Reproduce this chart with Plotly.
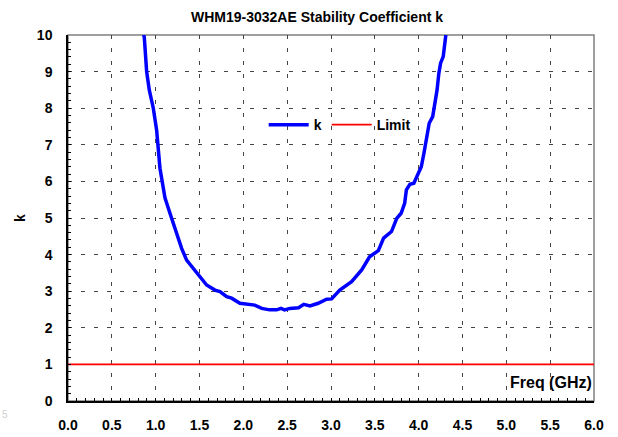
import plotly.graph_objects as go

# ---- data ----
freq_ghz = [0.860, 0.870, 0.897, 0.927, 0.973, 1.011, 1.049, 1.085, 1.106, 1.163,
            1.220, 1.296, 1.353, 1.429, 1.505, 1.581, 1.676, 1.733, 1.810, 1.866,
            1.961, 2.040, 2.130, 2.210, 2.300, 2.380, 2.430, 2.470, 2.530, 2.630,
            2.690, 2.760, 2.854, 2.950, 3.007, 3.100, 3.235, 3.350, 3.440, 3.540,
            3.600, 3.690, 3.750, 3.800, 3.840, 3.860, 3.900, 3.945, 3.976, 4.030,
            4.060, 4.090, 4.120, 4.160, 4.180, 4.210, 4.230, 4.250, 4.280, 4.300,
            4.310]
k_values = [10.0, 9.95, 9.00, 8.50, 8.00, 7.40, 6.36, 5.85, 5.55, 5.13,
            4.72, 4.17, 3.85, 3.63, 3.42, 3.17, 3.03, 2.99, 2.85, 2.81,
            2.67, 2.64, 2.62, 2.53, 2.49, 2.49, 2.53, 2.49, 2.53, 2.55,
            2.64, 2.60, 2.67, 2.78, 2.79, 3.03, 3.26, 3.58, 3.94, 4.11,
            4.45, 4.63, 4.99, 5.13, 5.40, 5.77, 5.92, 5.95, 6.13, 6.40,
            6.77, 7.13, 7.59, 7.77, 8.04, 8.50, 8.95, 9.23, 9.41, 9.77,
            10.0]
limit_freq = [0.0, 6.0]
limit_values = [1.0, 1.0]

x_tickvals = [0.0, 0.5, 1.0, 1.5, 2.0, 2.5, 3.0, 3.5, 4.0, 4.5, 5.0, 5.5, 6.0]
x_ticktext = ["0.0", "0.5", "1.0", "1.5", "2.0", "2.5", "3.0", "3.5", "4.0", "4.5", "5.0", "5.5", "6.0"]
y_tickvals = [0, 1, 2, 3, 4, 5, 6, 7, 8, 9, 10]

FONT = "Liberation Sans, Arial, sans-serif"

fig = go.Figure()
fig.add_trace(go.Scatter(x=freq_ghz, y=k_values, mode="lines", name="<b>k</b>",
                         line=dict(color="#0000FF", width=3.5)))
fig.add_trace(go.Scatter(x=limit_freq, y=limit_values, mode="lines", name="<b>Limit</b>",
                         line=dict(color="#FF0000", width=1.8)))

grid = dict(showgrid=True, gridcolor="#444444", gridwidth=1, griddash="4px,9px")

fig.update_layout(
    width=618, height=437,
    margin=dict(l=68, r=24, t=35, b=36, autoexpand=False),
    paper_bgcolor="white", plot_bgcolor="white",
    font=dict(family=FONT, size=14, color="black"),
    title=dict(text="<b>WHM19-3032AE Stability Coefficient k</b>",
               x=317 / 618, xanchor="center", y=1 - 17 / 437, yanchor="middle",
               yref="container", automargin=False,
               font=dict(size=14, family=FONT, color="black")),
    showlegend=True,
    legend=dict(orientation="h", x=0.372, y=0.754, xanchor="left", yanchor="middle",
                bgcolor="rgba(0,0,0,0)", font=dict(size=14, family=FONT, color="black"),
                itemwidth=40, tracegroupgap=0),
    xaxis=dict(range=[0, 6], tickvals=x_tickvals, ticktext=["<b>%s</b>" % t for t in x_ticktext],
               showline=True, linecolor="black", linewidth=1.5, automargin=False,
               ticks="inside", ticklen=3, tickcolor="black",
               minor=dict(dtick=0.1, ticks="inside", ticklen=3, tickcolor="black", showgrid=False),
               ticklabelstandoff=10, zeroline=False, **grid),
    yaxis=dict(range=[0, 10], tickvals=y_tickvals, ticktext=["<b>%d</b>" % v for v in y_tickvals],
               showline=True, linecolor="black", linewidth=1.5, automargin=False,
               ticks="inside", ticklen=3, tickcolor="black",
               minor=dict(dtick=0.2, ticks="inside", ticklen=3, tickcolor="black", showgrid=False),
               ticklabelstandoff=11, zeroline=False, **grid),
    shapes=[dict(type="rect", xref="paper", yref="paper", x0=0, y0=0, x1=1, y1=1,
                 line=dict(color="#808080", width=1.5), layer="below")],
    annotations=[
        dict(text="<b>k</b>", xref="paper", yref="paper", x=(20 - 68) / 526, y=0.5,
             xanchor="center", yanchor="middle", textangle=-90, showarrow=False,
             font=dict(size=14, family=FONT)),
        dict(text="<b>Freq (GHz)</b>", xref="paper", yref="paper", x=1.0, y=(401 - 382) / 366,
             xanchor="right", yanchor="middle", showarrow=False,
             font=dict(size=16, family=FONT)),
        dict(text="5", xref="paper", yref="paper", x=(5 - 68) / 526, y=(401 - 414) / 366,
             xanchor="center", yanchor="middle", showarrow=False,
             font=dict(size=10, family=FONT, color="#d0d0d0")),
    ],
)

fig.write_html("out.html", config={"displayModeBar": False},
               post_script="document.body.style.margin='0';")
